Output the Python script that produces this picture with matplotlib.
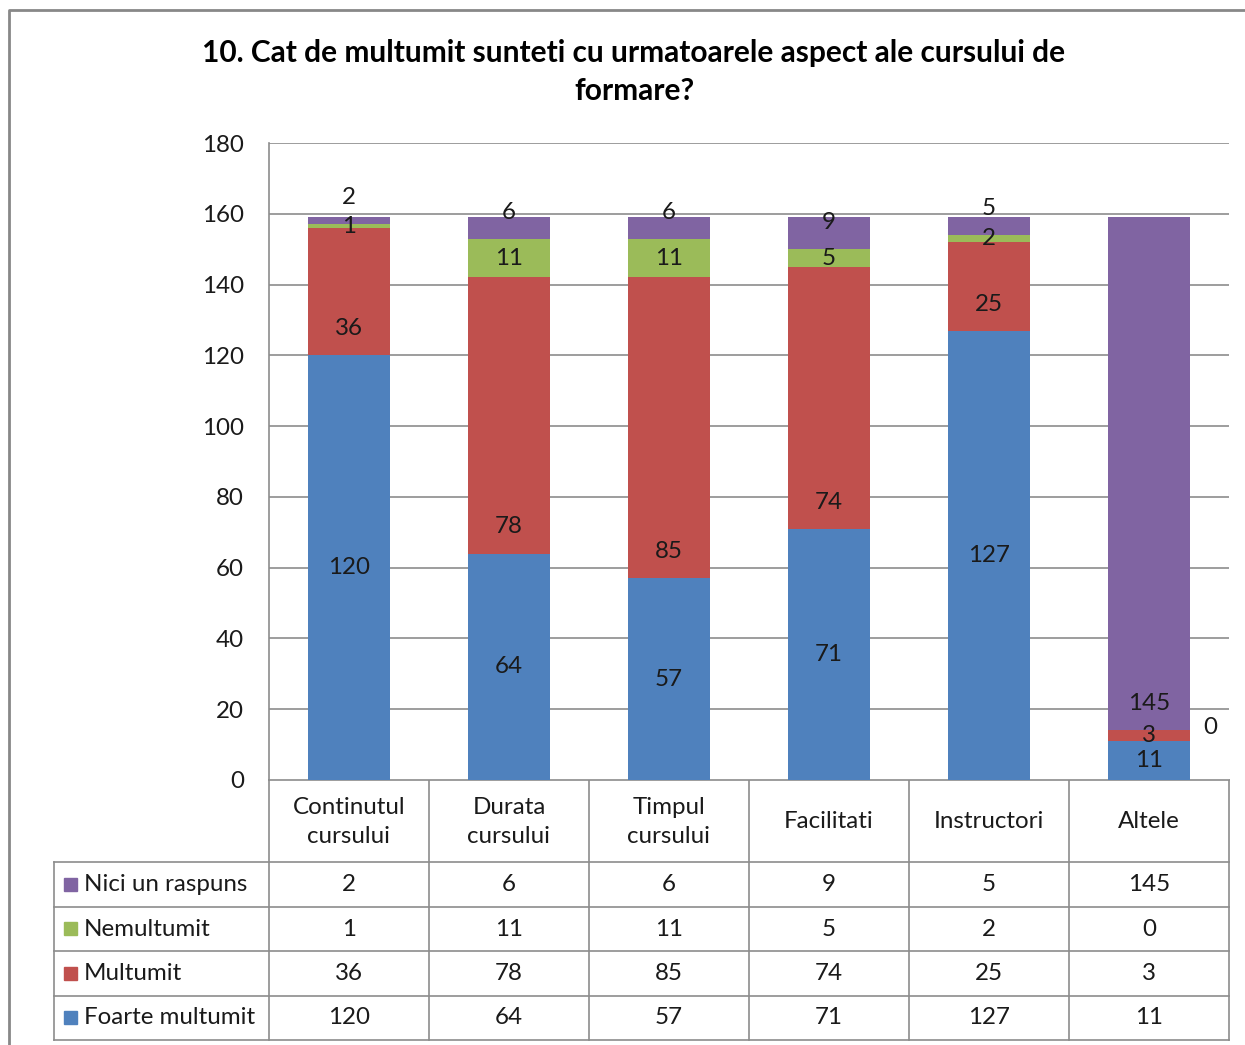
import matplotlib
matplotlib.use("Agg")
import matplotlib.pyplot as plt
import numpy as np

plt.rcParams['font.family'] = ['Lato', 'DejaVu Sans']

categories = ["Continutul\ncursului", "Durata\ncursului", "Timpul\ncursului",
              "Facilitati", "Instructori", "Altele"]
series_names = ["Foarte multumit", "Multumit", "Nemultumit", "Nici un raspuns"]
foarte_multumit = [120, 64, 57, 71, 127, 11]
multumit = [36, 78, 85, 74, 25, 3]
nemultumit = [1, 11, 11, 5, 2, 0]
nici_un_raspuns = [2, 6, 6, 9, 5, 145]
y_ticks = [0, 20, 40, 60, 80, 100, 120, 140, 160, 180]

title = "10. Cat de multumit sunteti cu urmatoarele aspect ale cursului de\nformare?"
colors = ["#4F81BD", "#C0504D", "#9BBB59", "#8064A2"]
series = [foarte_multumit, multumit, nemultumit, nici_un_raspuns]

W, H = 1245, 1045
fig = plt.figure(figsize=(W / 100, H / 100), dpi=100)

# overlay in pixel coords for border + table
tab = fig.add_axes([0, 0, 1, 1])
tab.set_xlim(0, W)
tab.set_ylim(H, 0)
tab.axis('off')
tab.patch.set_visible(False)

grid_c = "#8C8C8C"
tab.plot([9, 9, W], [H, 10, 10], color="#888888", lw=2)

# plot area
L, R, T, B = 269, 1229, 143, 780
ax = fig.add_axes([L / W, 1 - B / H, (R - L) / W, (B - T) / H])
x = np.arange(len(categories))
bottom = np.zeros(len(categories))
for vals, c in zip(series, colors):
    ax.bar(x, vals, 0.51, bottom=bottom, color=c, zorder=3)
    bottom += np.array(vals)

# data labels (Excel-like placement)
fs = 17.4
txt_c = "#1A1A1A"
base = np.zeros(len(categories))
for k, vals in enumerate(series):
    for i, v in enumerate(vals):
        b = base[i]
        center = b + v / 2
        if k == 0:
            yy, xx = center, x[i]
        elif k == 1:
            yy, xx = min(center, b + 7.5), x[i]
        elif k == 2:
            yy, xx = center, x[i]
            if v == 0:
                xx = x[i] + 0.38
                yy = b + 0.8
        else:
            yy, xx = b + 7.5, x[i]
        ax.text(xx, yy, str(v), ha='center', va='center', fontsize=fs,
                color=txt_c, zorder=5)
    base += np.array(vals)

ax.set_xlim(-0.5, len(categories) - 0.5)
ax.set_ylim(0, 180)
ax.set_yticks(y_ticks)
ax.set_xticks([])
ax.tick_params(axis='y', length=0, pad=18, labelsize=fs, labelcolor=txt_c)
for t in ax.get_yticklabels():
    t.set_horizontalalignment('right')
ax.yaxis.grid(True, color=grid_c, lw=1.2, zorder=0)
ax.spines['right'].set_visible(False)
ax.spines['top'].set_visible(False)
ax.spines['bottom'].set_visible(False)
ax.spines['left'].set_color(grid_c)
ax.spines['left'].set_linewidth(1.2)

fig.text(634 / W, 1 - 72 / H, title, ha='center', va='center', fontsize=21.5,
         fontweight='bold', color="#000000", linespacing=1.45)

# data table
col_w = (R - L) / len(categories)
row_edges = [780, 862, 907, 951, 996, 1040]
lw = 1.2
for j in range(len(categories) + 1):
    xx = L + j * col_w
    tab.plot([xx, xx], [row_edges[0], row_edges[-1]], color=grid_c, lw=lw)
tab.plot([L, R], [row_edges[0], row_edges[0]], color=grid_c, lw=lw)
for ry in row_edges[1:]:
    tab.plot([54, R], [ry, ry], color=grid_c, lw=lw)
tab.plot([54, 54], [row_edges[1], row_edges[-1]], color=grid_c, lw=lw)

for j, cat in enumerate(categories):
    tab.text(L + (j + 0.5) * col_w, (row_edges[0] + row_edges[1]) / 2 + 1, cat,
             ha='center', va='center', fontsize=fs, color=txt_c, linespacing=1.5)

table_order = [3, 2, 1, 0]
for r, k in enumerate(table_order):
    cy = (row_edges[r + 1] + row_edges[r + 2]) / 2
    tab.add_patch(plt.Rectangle((64, cy - 7), 13, 13, color=colors[k]))
    tab.text(84, cy, series_names[k], ha='left', va='center', fontsize=fs,
             color=txt_c)
    for j, v in enumerate(series[k]):
        tab.text(L + (j + 0.5) * col_w, cy, str(v), ha='center', va='center',
                 fontsize=fs, color=txt_c)

fig.savefig("out.png", dpi=100)
